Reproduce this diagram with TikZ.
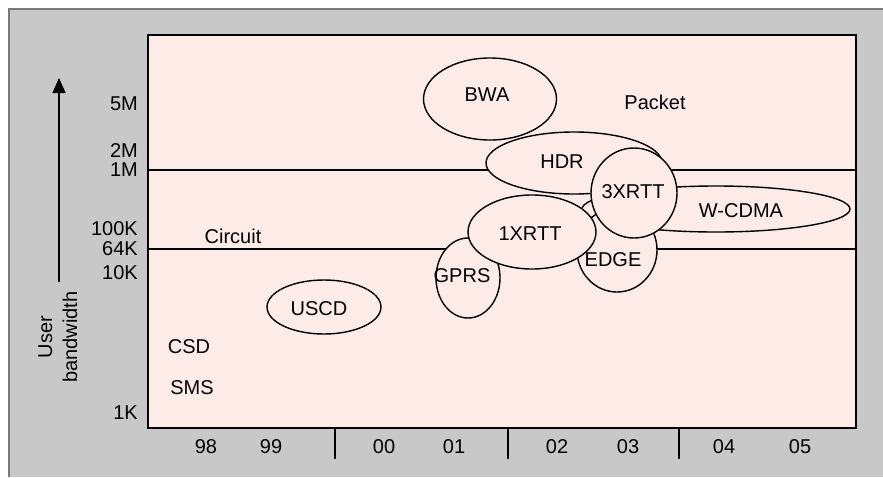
\documentclass[tikz,border=0pt]{standalone}
\usepackage{fontspec}
\setmainfont{Liberation Sans}
\usetikzlibrary{shapes.geometric,arrows.meta}
\definecolor{bggrey}{HTML}{C8C8C8}
\definecolor{edgegrey}{HTML}{7A7A7A}
\definecolor{plotpink}{HTML}{FDEBE8}
\begin{document}
\begin{tikzpicture}[x=1pt,y=-1pt,
  lbl/.style={font=\fontsize{20}{24}\selectfont, inner sep=0pt},
  blob/.style={ellipse, draw=black, line width=1.4pt, fill=plotpink, inner sep=0pt},
  rule/.style={line width=1.4pt, black}]
\useasboundingbox (0,0) rectangle (883,477);
\fill[white] (0,0) rectangle (883,477);
\fill[bggrey] (9,9) rectangle (883,477);
\draw[edgegrey, line width=1.2pt] (9,477) -- (9,9) -- (883,9);
% plot area
\coordinate (tl) at (148,35);
\coordinate (br) at (856,428);
\draw[plotpink, fill=plotpink] (tl) rectangle (br);
\coordinate (l1) at (148,170); \coordinate (r1) at (856,170);
\coordinate (l2) at (148,249); \coordinate (r2) at (856,249);
\draw[rule] (l1) -- (r1);
\draw[rule] (l2) -- (r2);
% ticks
\coordinate (t1a) at (335,428); \coordinate (t1b) at (335,459);
\coordinate (t2a) at (508,428); \coordinate (t2b) at (508,459);
\coordinate (t3a) at (679,428); \coordinate (t3b) at (679,459);
\draw[rule] (t1a) -- (t1b);
\draw[rule] (t2a) -- (t2b);
\draw[rule] (t3a) -- (t3b);
% ellipses
\node[blob, minimum width=133pt, minimum height=82pt] (bwa) at (490,99) {};
\node[blob, minimum width=176pt, minimum height=62pt] (hdr) at (574,163) {};
\node[blob, minimum width=268pt, minimum height=46pt] (wcdma) at (716,209) {};
\node[blob, minimum width=80pt, minimum height=84pt] (edge) at (617,250) {};
\node[blob, minimum width=64pt, minimum height=80pt] (gprs) at (468,278) {};
\node[blob, minimum width=128pt, minimum height=74pt] (x1) at (532,232) {};
\node[blob, minimum width=86pt, minimum height=90pt] (x3) at (634,193) {};
\node[blob, minimum width=114pt, minimum height=54pt] (uscd) at (324,307) {};
% border of plot
\draw[line width=2pt] (tl) rectangle (br);
% texts in ellipses
\node[lbl, anchor=base] (tbwa) at (487,101) {BWA};
\node[lbl, anchor=base] (thdr) at (562,168) {HDR};
\node[lbl, anchor=base] (tx3) at (633,198) {3XRTT};
\node[lbl, anchor=base] (twcdma) at (741,217) {W-CDMA};
\node[lbl, anchor=base] (tx1) at (530,240) {1XRTT};
\node[lbl, anchor=base] (tedge) at (613,266) {EDGE};
\node[lbl, anchor=base] (tgprs) at (462,282) {GPRS};
\node[lbl, anchor=base] (tuscd) at (319,315) {USCD};
\node[lbl, anchor=base] (tcsd) at (189,353) {CSD};
\node[lbl, anchor=base] (tsms) at (192,394) {SMS};
\node[lbl, anchor=base] (tpacket) at (655,109) {Packet};
\node[lbl, anchor=base] (tcircuit) at (233,243) {Circuit};
% y labels
\node[lbl, anchor=base east] (y5m) at (138,110) {5M};
\node[lbl, anchor=base east] (y2m) at (138,157) {2M};
\node[lbl, anchor=base east] (y1m) at (138,176) {1M};
\node[lbl, anchor=base east] (y100k) at (138,235) {100K};
\node[lbl, anchor=base east] (y64k) at (138,255) {64K};
\node[lbl, anchor=base east] (y10k) at (138,279) {10K};
\node[lbl, anchor=base east] (y1k) at (138,419) {1K};
% x labels
\node[lbl, anchor=base] (x98) at (206,453) {98};
\node[lbl, anchor=base] (x99) at (271,453) {99};
\node[lbl, anchor=base] (x00) at (384,453) {00};
\node[lbl, anchor=base] (x01) at (454,453) {01};
\node[lbl, anchor=base] (x02) at (557,453) {02};
\node[lbl, anchor=base] (x03) at (628,453) {03};
\node[lbl, anchor=base] (x04) at (724,453) {04};
\node[lbl, anchor=base] (x05) at (800,453) {05};
% axis arrow and title
\coordinate (abot) at (59,282);
\coordinate (atop) at (59,78);
\draw[line width=1.4pt, -{Triangle[length=15pt,width=13pt]}] (abot) -- (atop);
\node[lbl, rotate=90, anchor=base] (tuser) at (52,337) {User};
\node[lbl, rotate=90, anchor=base] (tbw) at (77,337) {bandwidth};
\end{tikzpicture}
\end{document}
